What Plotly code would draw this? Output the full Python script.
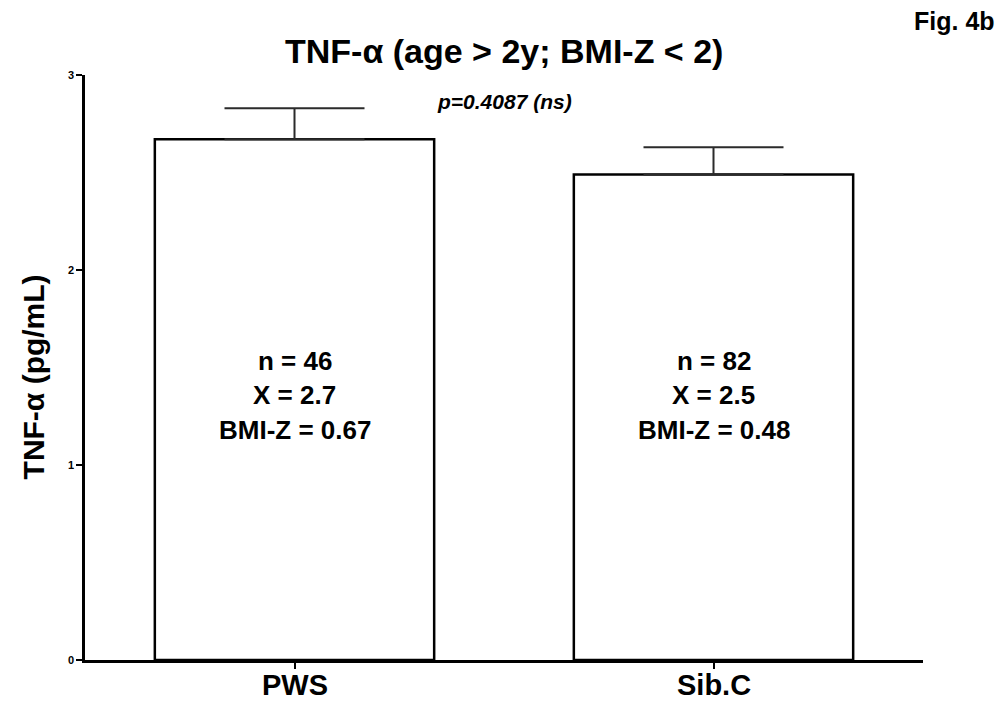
import plotly.graph_objects as go

# Group summary values
groups = ["PWS", "Sib.C"]
means = [2.67, 2.49]
sems = [0.16, 0.14]
n_counts = [46, 82]
bmi_z = [0.67, 0.48]

y_ticks = [0, 1, 2, 3]
p_label = "p=0.4087 (ns)"

FONT = "Liberation Sans, Arial, Helvetica, sans-serif"

fig = go.Figure()
fig.add_trace(go.Bar(
    x=groups,
    y=means,
    marker=dict(color="white", line=dict(color="black", width=2.5)),
    error_y=dict(type="data", symmetric=False, array=sems,
                 arrayminus=[0] * len(sems), color="#2b2b2b",
                 thickness=2, width=70),
    showlegend=False,
    hoverinfo="skip",
))

# Per-group text block inside each bar
row_offsets = [1.535, 1.36, 1.18]
for g, m, n, b in zip(groups, means, n_counts, bmi_z):
    rows = [f"n = {n}", f"X = {m:.1f}", f"BMI-Z = {b:.2f}"]
    for txt, yy in zip(rows, row_offsets):
        fig.add_annotation(x=g, y=yy, xref="x", yref="y", text=txt,
                           showarrow=False, yanchor="middle",
                           font=dict(family=FONT, size=26, color="black",
                                     weight="bold"))

# Category labels under the axis
for g in groups:
    fig.add_annotation(x=g, y=0, xref="x", yref="paper", yshift=-25,
                       text=g, showarrow=False, xanchor="center",
                       yanchor="middle",
                       font=dict(family=FONT, size=29, color="black",
                                 weight="bold"))

# Title
fig.add_annotation(x=0.5, y=1, xref="paper", yref="paper", yshift=24,
                   text="TNF-α (age > 2y; BMI-Z < 2)", showarrow=False,
                   xanchor="center", yanchor="middle",
                   font=dict(family=FONT, size=34, color="black", weight="bold"))
# Figure tag
fig.add_annotation(x=1.038, y=1, xref="paper", yref="paper", yshift=54,
                   text="Fig. 4b", showarrow=False,
                   xanchor="center", yanchor="middle",
                   font=dict(family=FONT, size=25, color="black", weight="bold"))
# p-value
fig.add_annotation(x=0.5, y=1, xref="paper", yref="paper", yshift=-26,
                   text=f"<b><i>{p_label}</i></b>", showarrow=False,
                   xanchor="center", yanchor="middle",
                   font=dict(family=FONT, size=21, color="black"))
# Y axis title
fig.add_annotation(x=0, y=0.483, xref="paper", yref="paper", xshift=-52,
                   text="TNF-α (pg/mL)", textangle=-90, showarrow=False,
                   xanchor="center", yanchor="middle",
                   font=dict(family=FONT, size=30, color="black", weight="bold"))

fig.update_layout(
    width=1001, height=704,
    margin=dict(l=85, r=78, t=75, b=44),
    paper_bgcolor="white", plot_bgcolor="white",
    bargap=1 / 3,
    xaxis=dict(range=[-0.5, 1.5], showline=True, linecolor="black",
               linewidth=2.5, ticks="outside", ticklen=6, tickwidth=2,
               tickcolor="black", showgrid=False, zeroline=False,
               automargin=False, showticklabels=False),
    yaxis=dict(range=[0, 3], tickvals=y_ticks, showline=True,
               linecolor="black", linewidth=2.5, ticks="outside", ticklen=6,
               tickwidth=2, tickcolor="black", showgrid=False, zeroline=False,
               automargin=False,
               tickfont=dict(family=FONT, size=11, color="black",
                             weight="bold")),
)

fig.write_html("out.html")
